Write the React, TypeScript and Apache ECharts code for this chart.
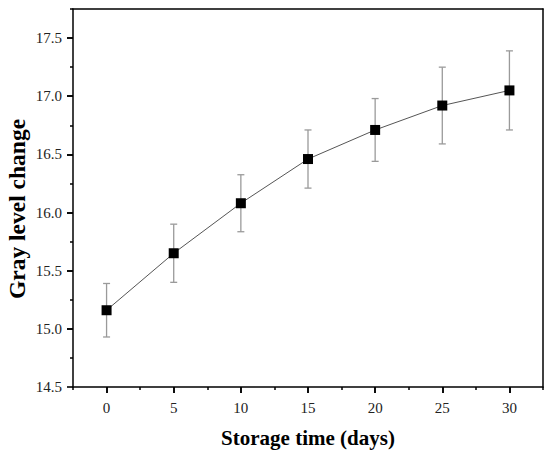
import React, { useEffect, useRef } from "react";
import * as echarts from "echarts";

const days = [0, 5, 10, 15, 20, 25, 30];
const means = [15.16, 15.65, 16.08, 16.46, 16.71, 16.92, 17.05];
const errors = [0.23, 0.25, 0.245, 0.25, 0.27, 0.33, 0.34];

// axis ranges
const xMin = -2.5;
const xMax = 32.5;
const yMin = 14.5;
const yMax = 17.75;
const xMajorMin = 0;
const xMajorMax = 30;
const xMajorStep = 5;
const yMajorMin = 14.5;
const yMajorMax = 17.5;
const yMajorStep = 0.5;
const yMinorMin = 14.75;
const yMinorMax = 17.75;

export default function App() {
  const ref = useRef<HTMLDivElement>(null);
  useEffect(() => {
    if (!ref.current) return;
    const chart = echarts.init(ref.current, null, { renderer: "svg" });
    const W = 550;
    const H = 454;
    const plot = { left: 73, top: 9, right: 7, bottom: 67 };
    const pxX = (W - plot.left - plot.right) / (xMax - xMin);
    const pxY = (H - plot.top - plot.bottom) / (yMax - yMin);
    const majorGrid = {
      left: plot.left + (xMajorMin - xMin) * pxX,
      right: plot.right + (xMax - xMajorMax) * pxX,
      top: plot.top + (yMax - yMajorMax) * pxY,
      bottom: plot.bottom + (yMajorMin - yMin) * pxY,
    };
    const minorGrid = {
      left: plot.left,
      right: plot.right,
      top: plot.top + (yMax - yMinorMax) * pxY,
      bottom: plot.bottom + (yMinorMin - yMin) * pxY,
    };
    const labelFont = {
      fontFamily: "Liberation Serif",
      fontSize: 15,
      color: "#222",
    };
    const ls = () => ({ color: "#000", width: 1.5 });
    const errData = days.map((d, i) => [d, means[i] - errors[i], means[i] + errors[i]]);
    chart.setOption({
      animation: false,
      backgroundColor: "#fff",
      grid: [plot, majorGrid, minorGrid],
      xAxis: [
        {
          type: "value",
          gridIndex: 0,
          min: xMin,
          max: xMax,
          interval: xMajorStep,
          position: "bottom",
          splitLine: { show: false },
          axisLine: { show: true, onZero: false, lineStyle: ls() },
          axisTick: { show: true, length: 3, lineStyle: ls() },
          minorTick: { show: true, splitNumber: 2, length: 6, lineStyle: ls() },
          axisLabel: { show: false },
        },
        {
          type: "value",
          gridIndex: 0,
          min: xMin,
          max: xMax,
          position: "top",
          splitLine: { show: false },
          axisLine: { show: true, onZero: false, lineStyle: ls() },
          axisTick: { show: false },
          axisLabel: { show: false },
        },
        {
          type: "value",
          gridIndex: 1,
          min: xMajorMin,
          max: xMajorMax,
          interval: xMajorStep,
          position: "bottom",
          name: "Storage time (days)",
          nameLocation: "middle",
          nameGap: 40,
          nameTextStyle: {
            fontFamily: "Liberation Serif",
            fontWeight: "bold",
            fontSize: 21,
            color: "#000",
          },
          splitLine: { show: false },
          axisLine: { show: false, onZero: false },
          axisTick: { show: true, length: 6, lineStyle: { color: "#000", width: 1.6 } },
          axisLabel: { ...labelFont, margin: 13 },
        },
        {
          type: "value",
          gridIndex: 2,
          min: xMin,
          max: xMax,
          show: false,
        },
      ],
      yAxis: [
        {
          type: "value",
          gridIndex: 0,
          min: yMin,
          max: yMax,
          position: "left",
          splitLine: { show: false },
          axisLine: { show: true, onZero: false, lineStyle: ls() },
          axisTick: { show: false },
          axisLabel: { show: false },
        },
        {
          type: "value",
          gridIndex: 0,
          min: yMin,
          max: yMax,
          position: "right",
          splitLine: { show: false },
          axisLine: { show: true, onZero: false, lineStyle: ls() },
          axisTick: { show: false },
          axisLabel: { show: false },
        },
        {
          type: "value",
          gridIndex: 1,
          min: yMajorMin,
          max: yMajorMax,
          interval: yMajorStep,
          position: "left",
          offset: majorGrid.left - plot.left,
          splitLine: { show: false },
          axisLine: { show: false, onZero: false },
          axisTick: { show: true, length: 6, lineStyle: { color: "#000", width: 1.6 } },
          axisLabel: {
            ...labelFont,
            margin: 11,
            formatter: (v: number) => v.toFixed(1),
          },
        },
        {
          type: "value",
          gridIndex: 2,
          min: yMinorMin,
          max: yMinorMax,
          interval: yMajorStep,
          position: "left",
          splitLine: { show: false },
          axisLine: { show: false, onZero: false },
          axisTick: { show: true, length: 3, lineStyle: ls() },
          minorTick: { show: true, splitNumber: 2, length: 6, lineStyle: ls() },
          axisLabel: { show: false },
        },
      ],
      graphic: [
        {
          type: "text",
          x: 17,
          y: 209,
          rotation: Math.PI / 2,
          style: {
            text: "Gray level change",
            fontFamily: "Liberation Serif",
            fontWeight: "bold",
            fontSize: 23.5,
            fill: "#000",
            textAlign: "center",
            textVerticalAlign: "middle",
          },
        },
      ],
      series: [
        {
          type: "custom",
          xAxisIndex: 0,
          yAxisIndex: 0,
          data: errData,
          z: 1,
          renderItem: (params: any, api: any) => {
            const x = api.value(0);
            const lo = api.coord([x, api.value(1)]);
            const hi = api.coord([x, api.value(2)]);
            const hw = 3.5;
            const style = { stroke: "#9a9a9a", lineWidth: 1.3, fill: "none" };
            return {
              type: "group",
              children: [
                { type: "line", shape: { x1: lo[0], y1: lo[1], x2: hi[0], y2: hi[1] }, style },
                { type: "line", shape: { x1: hi[0] - hw, y1: hi[1], x2: hi[0] + hw, y2: hi[1] }, style },
                { type: "line", shape: { x1: lo[0] - hw, y1: lo[1], x2: lo[0] + hw, y2: lo[1] }, style },
              ],
            };
          },
        },
        {
          type: "line",
          xAxisIndex: 0,
          yAxisIndex: 0,
          data: days.map((d, i) => [d, means[i]]),
          z: 2,
          symbol: "rect",
          symbolSize: 10,
          lineStyle: { color: "#555", width: 1 },
          itemStyle: { color: "#000", borderWidth: 0 },
        },
      ],
    });
    return () => chart.dispose();
  }, []);
  return (
    <div
      ref={ref}
      style={{ position: "fixed", left: 0, top: 0, width: 550, height: 454 }}
    />
  );
}
